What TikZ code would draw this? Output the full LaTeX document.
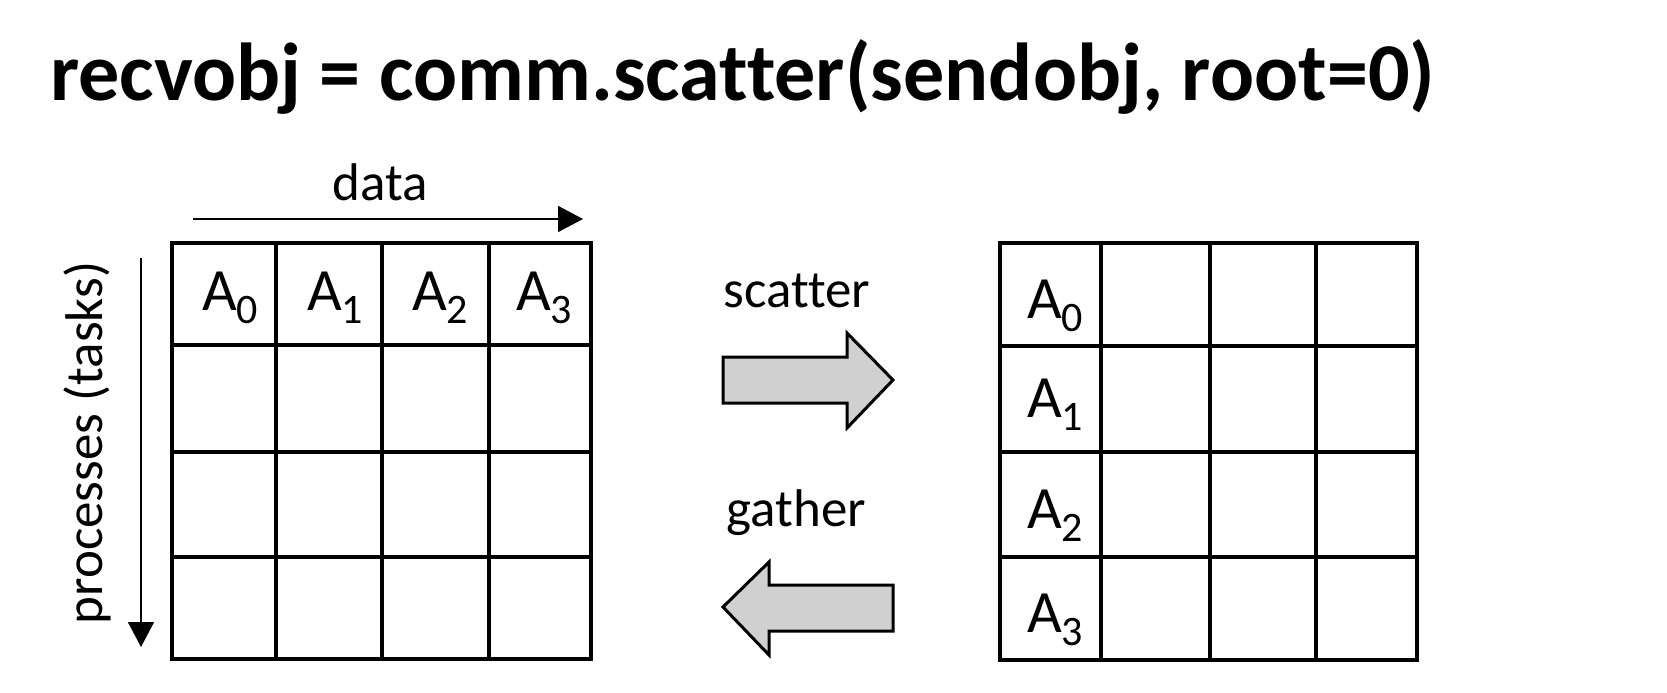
\documentclass[tikz,border=0pt]{standalone}
\usepackage{fontspec}
\setmainfont{Carlito}[Ligatures=NoCommon]
\usetikzlibrary{arrows.meta}
\definecolor{arrowgray}{RGB}{208,208,208}
\newcommand{\Asub}[1]{\fontsize{60}{60}\selectfont A\kern-1pt\raisebox{-13pt}{\fontsize{42}{42}\selectfont #1}}
\begin{document}
\begin{tikzpicture}[x=1pt,y=-1pt,
  cell/.style={draw=black, line width=3.5pt, inner sep=0pt, outer sep=0pt},
  lbl/.style={inner sep=0pt, anchor=base, font=\fontsize{53}{60}\selectfont},
  alab/.style={inner sep=0pt, anchor=base},
  bigarrow/.style={draw=black, line width=3pt, fill=arrowgray, line join=miter},
  thinarrow/.style={line width=1.6pt, -{Triangle[length=25pt,width=26pt]}}
]
\useasboundingbox (0,0) rectangle (1667,693);
\fill[white] (0,0) rectangle (1667,693);

% title
\node[anchor=base west, inner sep=0pt] (title) at (50,100)
  {\resizebox{1385pt}{!}{\fontsize{80}{80}\selectfont\bfseries recvobj = comm.scatter(sendobj, root=0)}};

% left grid
\foreach \c/\xa/\xb in {1/172/276, 2/276/382, 3/382/489, 4/489/591}{
  \foreach \r/\ya/\yb in {1/243/345, 2/345/452, 3/452/557, 4/557/659}{
    \node[cell, minimum width={(\xb-\xa)*1pt}, minimum height={(\yb-\ya)*1pt}]
      (L-\r-\c) at ({(\xa+\xb)/2},{(\ya+\yb)/2}) {};
  }
}
% right grid
\foreach \c/\xa/\xb in {1/1000/1101, 2/1101/1210, 3/1210/1316, 4/1316/1417}{
  \foreach \r/\ya/\yb in {1/243/346, 2/346/452, 3/452/557, 4/557/660}{
    \node[cell, minimum width={(\xb-\xa)*1pt}, minimum height={(\yb-\ya)*1pt}]
      (R-\r-\c) at ({(\xa+\xb)/2},{(\ya+\yb)/2}) {};
  }
}

% left labels
\node[alab] (la0) at (230,310) {\Asub{0}};
\node[alab] (la1) at (335,310) {\Asub{1}};
\node[alab] (la2) at (440,310) {\Asub{2}};
\node[alab] (la3) at (544,310) {\Asub{3}};
% right labels
\node[alab] (ra0) at (1055,318) {\Asub{0}};
\node[alab] (ra1) at (1055,417) {\Asub{1}};
\node[alab] (ra2) at (1055,528) {\Asub{2}};
\node[alab] (ra3) at (1055,632) {\Asub{3}};

% axis labels and arrows
\node[lbl] (data) at (380.5,200) {data};
\coordinate (d1) at (193,219);
\coordinate (d2) at (583,219);
\draw[thinarrow] (d1) -- (d2);

\node[lbl, rotate=90] (proc) at (102,443) {processes (tasks)};
\coordinate (p1) at (141,258);
\coordinate (p2) at (141,647);
\draw[thinarrow] (p1) -- (p2);

% scatter / gather
\node[lbl] (scatter) at (797,307) {scatter};
\node[lbl] (gather) at (796.5,526) {gather};

\draw[bigarrow] (723,357) -- (847,357) -- (847,333) -- (893,380) -- (847,428) -- (847,403) -- (723,403) -- cycle;
\draw[bigarrow] (723,607) -- (769,562) -- (769,585) -- (893,585) -- (893,631) -- (769,631) -- (769,655) -- cycle;
\end{tikzpicture}
\end{document}
